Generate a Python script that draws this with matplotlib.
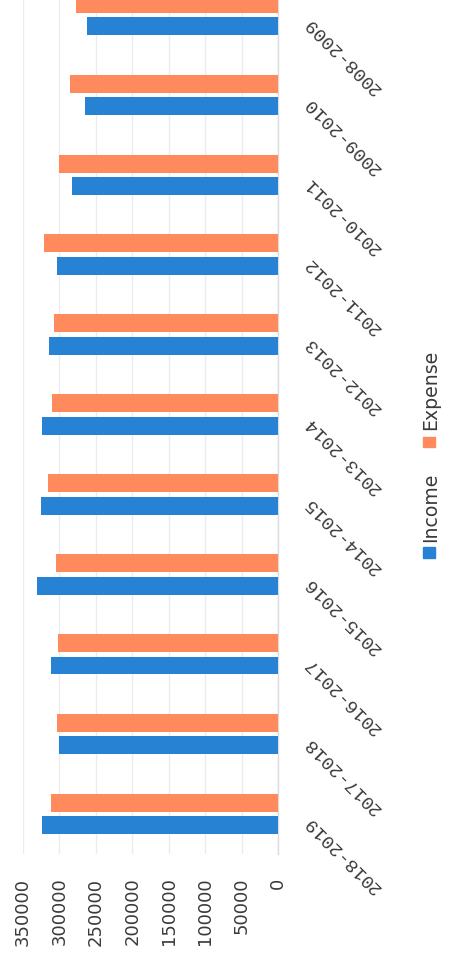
import numpy as np
import matplotlib
matplotlib.use("Agg")
import matplotlib.pyplot as plt
from matplotlib.patches import Rectangle
from matplotlib.transforms import ScaledTranslation

# data (top to bottom)
years = ["2008-2009", "2009-2010", "2010-2011", "2011-2012", "2012-2013", "2013-2014",
         "2014-2015", "2015-2016", "2016-2017", "2017-2018", "2018-2019"]
income = [261700, 264400, 282200, 302800, 313700, 323300, 324700, 330200, 311000, 300000, 323300]
expense = [276700, 285000, 300000, 320600, 306900, 309600, 315100, 304100, 301400, 302800, 311000]
value_ticks = [0, 50000, 100000, 150000, 200000, 250000, 300000, 350000]

blue = "#2782d4"
orange = "#fe8a5e"

W, H = 452, 960
fig = plt.figure(figsize=(W / 100, H / 100), dpi=100)
fig.patch.set_facecolor("white")

# plot area in pixels: x 23..278, y 0..854
ax = fig.add_axes([23 / W, 1 - 854 / H, 255 / W, 854 / H])

pos = np.arange(len(years))
off = 0.141
bh = 0.225
ax.barh(pos - off, expense, height=bh, color=orange, zorder=3)
ax.barh(pos + off, income, height=bh, color=blue, zorder=3)

ax.set_xlim(350000, 0)
ax.set_ylim(10.5, -0.188)

ax.set_xticks(value_ticks, labels=[str(v) for v in value_ticks])
ax.tick_params(axis="x", length=0, pad=17, rotation=90, labelsize=13, labelcolor="#3a3a3a")
for lbl in ax.get_xticklabels():
    lbl.set_family("DejaVu Sans")
ax.grid(axis="x", color="#ececec", lw=1, zorder=0)
ax.set_yticks([])

for s in ["top", "bottom", "left"]:
    ax.spines[s].set_visible(False)
ax.spines["right"].set_color("#dcdcdc")
ax.spines["right"].set_linewidth(1)

# category labels on the right, rotated
shift = ScaledTranslation(29 / 100, -5 / 100, fig.dpi_scale_trans)
for i, lab in enumerate(years):
    ax.text(1.0, pos[i], lab, transform=ax.get_yaxis_transform() + shift,
            rotation=135, rotation_mode="anchor", ha="right", va="center",
            family="Liberation Mono", fontsize=13.5, color="#3a3a3a", clip_on=False)

# legend drawn by hand, rotated like the rest of the scan
def px(x, y):
    return x / W, 1 - y / H

fig.patches.append(Rectangle(px(423, 558), 12 / W, 11 / H, transform=fig.transFigure,
                             color=blue, figure=fig))
fig.patches.append(Rectangle(px(423, 447), 12 / W, 10 / H, transform=fig.transFigure,
                             color=orange, figure=fig))
x0, y0 = px(436, 542)
fig.text(x0, y0, "Income", rotation=90, rotation_mode="anchor", ha="left", va="baseline",
         family="DejaVu Sans", fontsize=13.6, color="#3a3a3a")
x0, y0 = px(436, 430)
fig.text(x0, y0, "Expense", rotation=90, rotation_mode="anchor", ha="left", va="baseline",
         family="DejaVu Sans", fontsize=13.6, color="#3a3a3a")

fig.savefig("out.png", dpi=100, facecolor="white")
